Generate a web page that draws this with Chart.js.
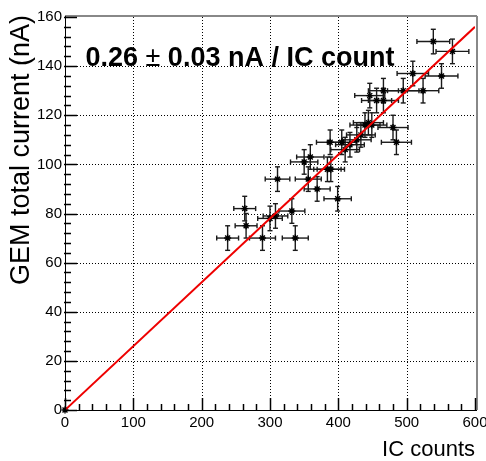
<!DOCTYPE html>
<html lang="en">
<head>
    <meta charset="UTF-8">
    <title>GEM current vs IC counts</title>
    <!-- Chart.js -->
    <script src="https://cdn.jsdelivr.net/npm/chart.js@4.4.1/dist/chart.umd.min.js"></script>
    <style>
        html, body { margin: 0; padding: 0; background: white; }
        #gemChart { display: block; }
    </style>
</head>
<body>
    <canvas id="gemChart" width="486" height="461"></canvas>

    <script>
        // Points (IC counts vs GEM total current)
        const icCounts   = [0, 238, 263, 265, 289, 300, 308, 311, 332, 337, 350, 359, 356, 369, 384, 389, 399, 388, 405, 410, 417, 427, 433, 439, 444, 449, 446, 466, 456, 466, 480, 485, 495, 524, 509, 551, 539, 567];
        const icErr      = [0, 16, 16, 16, 19, 18, 18, 18, 19, 19, 20, 20, 19, 19, 20, 20, 20, 20, 21, 21, 21, 21, 21, 22, 22, 22, 22, 22, 22, 22, 22, 22, 23, 23, 23, 24, 24, 24];
        const gemCurrent = [0, 70, 82, 75, 70, 78, 79, 94, 81, 70, 101, 103, 94, 90, 98, 98, 86, 109, 109, 106, 108, 110, 112, 116, 117, 116, 128, 130, 126, 126, 115, 109, 130, 130, 137, 136, 150, 146];
        const gemErr     = [0, 5, 5, 5, 5, 5, 5, 5, 5, 5, 5, 5, 5, 5, 5, 5, 5, 5, 5, 5, 5, 5, 5, 5, 5, 5, 5, 5, 5, 5, 5, 5, 5, 5, 5, 5, 5, 5];

        // Linear fit drawn through the origin
        const fitX = [0, 600];
        const fitY = [0, 156];

        // Axis ticks
        const xTicks = [0, 100, 200, 300, 400, 500, 600];
        const yTicks = [0, 20, 40, 60, 80, 100, 120, 140, 160];
        const xMinorStep = 20;
        const yMinorStep = 4;

        const fitText = ['0.26 ', '\u00B1', ' 0.03 nA / IC count'];
        const xTitle = 'IC counts';
        const yTitle = 'GEM total current (nA)';

        const FONT = '"Liberation Sans", Arial, Helvetica, sans-serif';

        function line(ctx, x0, y0, x1, y1) {
            ctx.beginPath();
            ctx.moveTo(x0, y0);
            ctx.lineTo(x1, y1);
            ctx.stroke();
        }

        // ROOT-like look: dotted grid, inner ticks, error bars, frame and labels
        const rootStyle = {
            id: 'rootStyle',
            beforeDatasetsDraw(chart) {
                const { ctx, chartArea: a, scales: { x, y } } = chart;
                ctx.save();

                // dotted grid
                ctx.strokeStyle = '#000';
                ctx.lineWidth = 1;
                ctx.setLineDash([1, 2]);
                xTicks.slice(1, -1).forEach(v => {
                    const px = Math.round(x.getPixelForValue(v)) + 0.5;
                    line(ctx, px, a.top, px, a.bottom);
                });
                yTicks.slice(1, -1).forEach(v => {
                    const py = Math.round(y.getPixelForValue(v)) + 0.5;
                    line(ctx, a.left, py, a.right, py);
                });
                ctx.setLineDash([]);

                // error bars with small end caps
                ctx.strokeStyle = '#1a1a1a';
                ctx.lineWidth = 1.4;
                const cap = 2.5;
                icCounts.forEach((cx, i) => {
                    if (!icErr[i] && !gemErr[i]) return;
                    const px = x.getPixelForValue(cx);
                    const py = y.getPixelForValue(gemCurrent[i]);
                    const xl = x.getPixelForValue(cx - icErr[i]);
                    const xr = x.getPixelForValue(cx + icErr[i]);
                    const yt = y.getPixelForValue(gemCurrent[i] + gemErr[i]);
                    const yb = y.getPixelForValue(gemCurrent[i] - gemErr[i]);
                    line(ctx, xl, py, xr, py);
                    line(ctx, px, yt, px, yb);
                    line(ctx, xl, py - cap, xl, py + cap);
                    line(ctx, xr, py - cap, xr, py + cap);
                    line(ctx, px - cap, yt, px + cap, yt);
                    line(ctx, px - cap, yb, px + cap, yb);
                });
                ctx.restore();
            },
            afterDraw(chart) {
                const { ctx, chartArea: a, scales: { x, y } } = chart;
                ctx.save();

                // frame: top and right in grey, axes in black
                ctx.strokeStyle = '#888';
                ctx.lineWidth = 2;
                line(ctx, a.left, a.top - 1, a.right + 2, a.top - 1);
                line(ctx, a.right + 2, a.top - 1, a.right + 2, a.bottom);
                ctx.strokeStyle = '#000';
                ctx.lineWidth = 1;
                line(ctx, a.left + 0.5, a.top - 1, a.left + 0.5, a.bottom + 0.5);
                line(ctx, a.left, a.bottom + 0.5, a.right + 2, a.bottom + 0.5);

                // inner ticks, major at the labels, minor in between
                ctx.lineWidth = 1.5;
                for (let v = 0; v <= 600; v += xMinorStep) {
                    const px = Math.round(x.getPixelForValue(v)) + 0.5;
                    const len = xTicks.includes(v) ? 12 : 6;
                    line(ctx, px, a.bottom + 1, px, a.bottom - len);
                }
                for (let v = 0; v <= 160; v += yMinorStep) {
                    const py = Math.round(y.getPixelForValue(v)) + 0.5;
                    const len = yTicks.includes(v) ? 12 : 6;
                    line(ctx, a.left - 1, py, a.left + len, py);
                }

                // fit result text
                ctx.fillStyle = '#000';
                ctx.textBaseline = 'middle';
                ctx.textAlign = 'left';
                let tx = x.getPixelForValue(30);
                const ty = y.getPixelForValue(143);
                fitText.forEach((part, i) => {
                    ctx.font = (i === 1 ? '' : 'bold ') + '27px ' + FONT;
                    ctx.fillText(part, tx, ty);
                    tx += ctx.measureText(part).width;
                });

                // axis titles, aligned to the end of each axis
                ctx.font = '22px ' + FONT;
                ctx.textAlign = 'right';
                ctx.textBaseline = 'middle';
                ctx.fillText(xTitle, a.right, 450);

                ctx.font = '27px ' + FONT;
                ctx.translate(22, a.top - 2);
                ctx.rotate(-Math.PI / 2);
                ctx.fillText(yTitle, 0, 0);
                ctx.restore();
            }
        };

        const ctx = document.getElementById('gemChart').getContext('2d');
        new Chart(ctx, {
            type: 'scatter',
            data: {
                datasets: [
                    {
                        type: 'line',
                        label: 'Fit',
                        data: fitX.map((v, i) => ({ x: v, y: fitY[i] })),
                        borderColor: '#ee0000',
                        borderWidth: 2,
                        pointRadius: 0,
                        order: 0
                    },
                    {
                        label: 'Data',
                        data: icCounts.map((v, i) => ({ x: v, y: gemCurrent[i] })),
                        pointStyle: 'star',
                        pointRadius: 3.5,
                        borderColor: '#000',
                        backgroundColor: '#000',
                        borderWidth: 1.4,
                        clip: false,
                        order: 1
                    }
                ]
            },
            options: {
                responsive: false,
                animation: false,
                devicePixelRatio: 1,
                layout: { padding: { top: 17, right: 11, left: 0, bottom: 0 } },
                plugins: {
                    legend: { display: false },
                    tooltip: { enabled: false }
                },
                scales: {
                    x: {
                        type: 'linear',
                        min: 0,
                        max: 600,
                        afterFit(scale) {
                            scale.height = 51;
                            scale.paddingLeft = 0;
                            scale.paddingRight = 0;
                        },
                        afterBuildTicks(scale) { scale.ticks = xTicks.map(v => ({ value: v })); },
                        grid: { display: false, drawTicks: false, tickLength: 0 },
                        border: { display: false },
                        ticks: {
                            color: '#000',
                            padding: 4,
                            maxRotation: 0,
                            font: { family: FONT, size: 15 }
                        }
                    },
                    y: {
                        type: 'linear',
                        min: 0,
                        max: 160,
                        afterFit(scale) {
                            scale.width = 65;
                            scale.paddingTop = 0;
                            scale.paddingBottom = 0;
                        },
                        afterBuildTicks(scale) { scale.ticks = yTicks.map(v => ({ value: v })); },
                        grid: { display: false, drawTicks: false, tickLength: 0 },
                        border: { display: false },
                        ticks: {
                            color: '#000',
                            padding: 3,
                            font: { family: FONT, size: 15 }
                        }
                    }
                }
            },
            plugins: [rootStyle]
        });
    </script>
</body>
</html>
